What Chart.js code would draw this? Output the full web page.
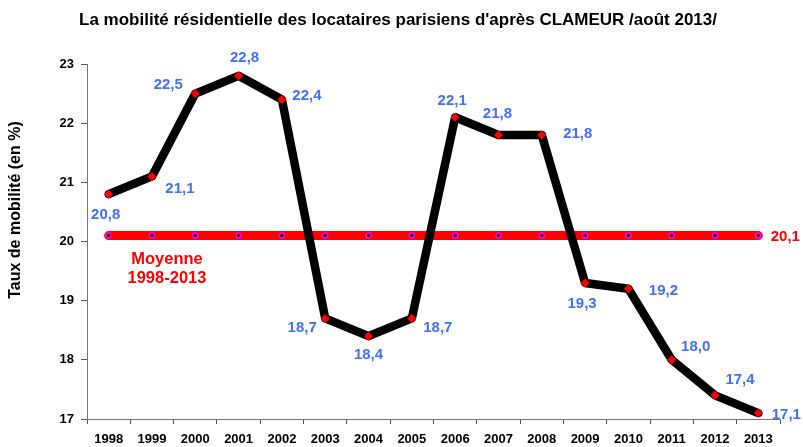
<!DOCTYPE html>
<html>
<head>
<meta charset="utf-8">
<script src="https://cdn.jsdelivr.net/npm/chart.js@4"></script>
<style>
html,body{margin:0;padding:0;background:#fff;}
#wrap{width:803px;height:447px;position:relative;}
</style>
</head>
<body>
<div id="wrap"><canvas id="c" width="803" height="447"></canvas></div>
<script>
const chartTitle = "La mobilité résidentielle des locataires parisiens d'après CLAMEUR /août 2013/";
const yAxisTitle = "Taux de mobilité (en %)";
const years = ["1998","1999","2000","2001","2002","2003","2004","2005","2006","2007","2008","2009","2010","2011","2012","2013"];
const mobilite = [20.8,21.1,22.5,22.8,22.4,18.7,18.4,18.7,22.1,21.8,21.8,19.3,19.2,18.0,17.4,17.1];
const moyenne = [20.1,20.1,20.1,20.1,20.1,20.1,20.1,20.1,20.1,20.1,20.1,20.1,20.1,20.1,20.1,20.1];
const moyenneLabel = ["Moyenne","1998-2013"];
const yTicks = [17,18,19,20,21,22,23];

const FONT = "'Liberation Sans', Arial, sans-serif";
const BLUE = '#4271F7';
const RED = '#FF0000';

// label offsets (style, relative to each point)
const labelOffsets = [[-3,21],[28,12],[-27,-9],[6,-18],[25,-4],[-23,9],[0,19],[26,9],[-3,-16],[-1,-21],[36,-1],[-3,21],[35,2],[24,-13],[25,-15],[28,2]];

const fmt = v => v.toFixed(1).replace('.', ',');

const textPlugin = {
  id: 'texts',
  afterDatasetsDraw(chart) {
    const ctx = chart.ctx;
    const x = chart.scales.x, y = chart.scales.y;
    ctx.save();
    ctx.textAlign = 'center';
    ctx.textBaseline = 'middle';
    // data labels
    ctx.font = 'bold 15px ' + FONT;
    ctx.fillStyle = BLUE;
    mobilite.forEach((v, i) => {
      const px = x.getPixelForValue(i), py = y.getPixelForValue(v);
      ctx.fillText(fmt(v), px + labelOffsets[i][0], py + labelOffsets[i][1]);
    });
    // average label
    ctx.font = 'bold 15px ' + FONT;
    ctx.fillStyle = RED;
    const last = moyenne.length - 1;
    ctx.fillText(fmt(moyenne[last]), x.getPixelForValue(last) + 27, y.getPixelForValue(moyenne[last]) + 1);
    ctx.font = 'bold 16.5px ' + FONT;
    ctx.fillText(moyenneLabel[0], x.getPixelForValue(1) + 15, y.getPixelForValue(moyenne[1]) + 24);
    ctx.fillText(moyenneLabel[1], x.getPixelForValue(1) + 15, y.getPixelForValue(moyenne[1]) + 43);
    // chart title
    ctx.fillStyle = '#000';
    ctx.font = 'bold 17px ' + FONT;
    ctx.fillText(chartTitle, 398, 20);
    // y axis title
    ctx.translate(16, 210);
    ctx.rotate(-Math.PI / 2);
    ctx.font = 'bold 16px ' + FONT;
    ctx.fillText(yAxisTitle, 0, 0);
    ctx.restore();
  }
};

new Chart(document.getElementById('c'), {
  type: 'line',
  data: {
    labels: years,
    datasets: [
      {
        data: mobilite,
        borderColor: '#000',
        borderWidth: 8.5,
        borderJoinStyle: 'round',
        borderCapStyle: 'round',
        tension: 0,
        pointStyle: 'rectRot',
        pointRadius: 4.5,
        pointBackgroundColor: RED,
        pointBorderWidth: 0,
        fill: false
      },
      {
        data: moyenne,
        borderColor: RED,
        borderWidth: 9,
        borderCapStyle: 'round',
        tension: 0,
        pointStyle: 'circle',
        pointRadius: 2.5,
        pointBackgroundColor: '#000',
        pointBorderColor: '#FF00FF',
        pointBorderWidth: 1.5,
        fill: false
      }
    ]
  },
  options: {
    responsive: false,
    animation: false,
    events: [],
    layout: { padding: { top: 64, right: 23, left: 0, bottom: 0 } },
    plugins: { legend: { display: false }, title: { display: false }, tooltip: { enabled: false } },
    scales: {
      x: {
        offset: true,
        grid: { offset: true, drawOnChartArea: false, tickLength: 5, color: '#555' },
        border: { color: '#777', width: 1 },
        ticks: { font: { family: FONT, size: 13, weight: 'bold' }, color: '#000', padding: 8, maxRotation: 0 },
        afterFit(s) { s.height = 28; }
      },
      y: {
        min: 17, max: 23,
        afterBuildTicks(s) { s.ticks = yTicks.map(v => ({ value: v })); },
        grid: { drawOnChartArea: false, tickLength: 6, color: '#555' },
        border: { color: '#777', width: 1 },
        ticks: { font: { family: FONT, size: 13, weight: 'bold' }, color: '#000', padding: 7 },
        afterFit(s) { s.width = 87; }
      }
    }
  },
  plugins: [textPlugin]
});
</script>
</body>
</html>
